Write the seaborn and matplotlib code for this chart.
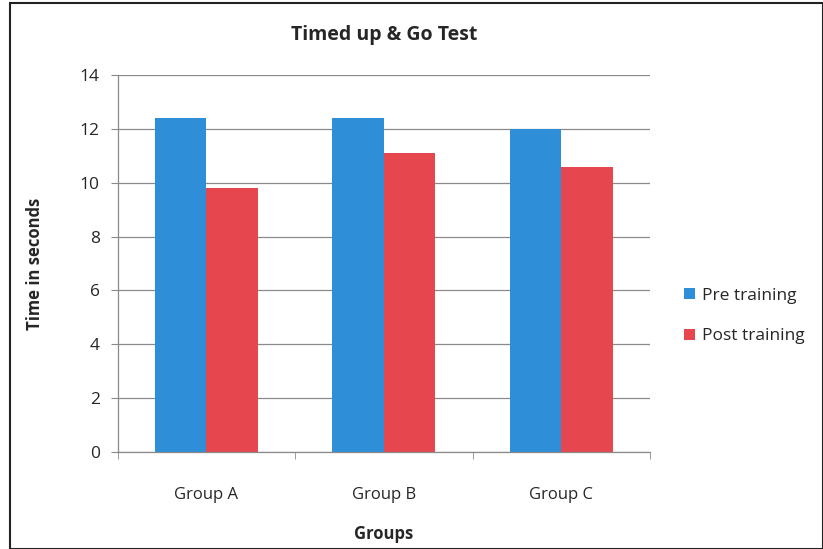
import matplotlib
matplotlib.use("Agg")
import matplotlib.pyplot as plt
import seaborn as sns
import pandas as pd
from matplotlib.patches import Rectangle

groups = ["Group A", "Group B", "Group C"]
pre_training = [12.4, 12.4, 12.0]
post_training = [9.8, 11.1, 10.6]
series_names = ["Pre training", "Post training"]
y_ticks = [0, 2, 4, 6, 8, 10, 12, 14]

df = pd.DataFrame({
    "Groups": groups * 2,
    "Time": pre_training + post_training,
    "Series": [series_names[0]] * 3 + [series_names[1]] * 3,
})

sns.set_style("white")
plt.rcParams["font.family"] = ["Open Sans", "DejaVu Sans"]

fig = plt.figure(figsize=(8.23, 5.49), dpi=100)
fig.patch.set_facecolor("white")
ax = fig.add_axes([0.143, 0.177, 0.647, 0.686])

palette = {"Pre training": "#2F8ED8", "Post training": "#E6464D"}
sns.barplot(data=df, x="Groups", y="Time", hue="Series", palette=palette,
            width=0.58, gap=0, saturation=1, linewidth=0, ax=ax, legend=True)

ax.set_ylim(0, 14)
ax.set_yticks(y_ticks)
ax.set_xlim(-0.5, 2.5)
ax.yaxis.grid(True, color="#8a8a8a", linewidth=0.9)
ax.set_axisbelow(True)
for side in ["top", "right"]:
    ax.spines[side].set_visible(False)
for side in ["left", "bottom"]:
    ax.spines[side].set_color("#8a8a8a")
    ax.spines[side].set_linewidth(0.9)

ax.tick_params(axis="y", left=True, length=5, color="#8a8a8a", labelsize=12.5, pad=8)
ax.set_xticks([-0.5, 0.5, 1.5, 2.5], minor=True)
ax.tick_params(axis="x", which="minor", bottom=True, length=5, color="#8a8a8a")
ax.tick_params(axis="x", which="major", bottom=False, labelsize=12, pad=22)

ax.set_xlabel("Groups", fontsize=12, fontweight="bold", labelpad=16)
ax.set_ylabel("Time in seconds", fontsize=12, fontweight="bold", labelpad=26)
ax.set_title("Timed up & Go Test", fontsize=14, fontweight="bold", pad=25)

handles, labels = ax.get_legend_handles_labels()
ax.legend(handles, labels, loc="center left", bbox_to_anchor=(1.035, 0.36),
          frameon=False, fontsize=12.5, handlelength=0.6, handleheight=0.6,
          handletextpad=0.4, labelspacing=1.4)

fig.patches.append(Rectangle((0.012, 0.0), 0.988, 0.995, transform=fig.transFigure,
                             fill=False, edgecolor="#222222", linewidth=1.5))

fig.savefig("out.png", dpi=100)
